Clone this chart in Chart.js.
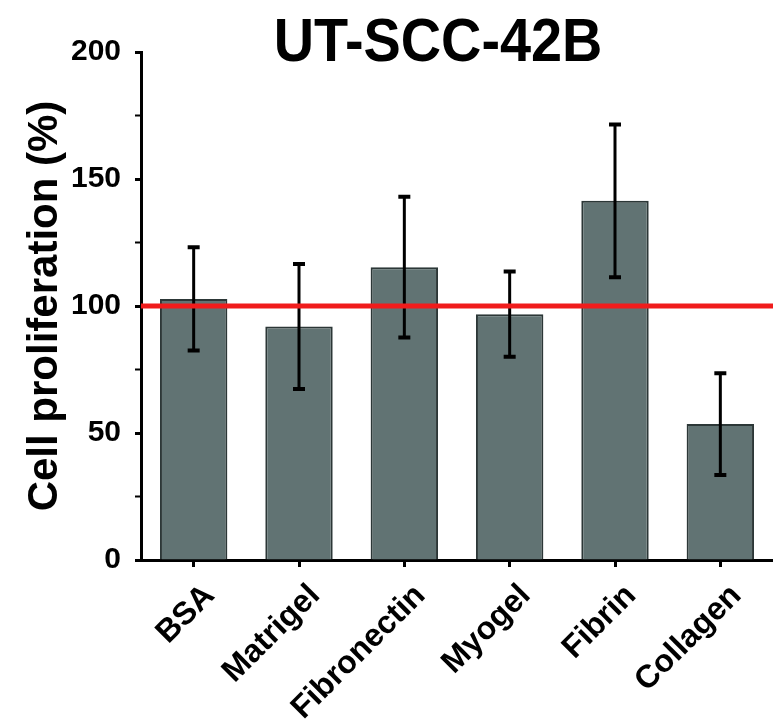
<!DOCTYPE html>
<html>
<head>
<meta charset="utf-8">
<title>UT-SCC-42B</title>
<script src="https://cdn.jsdelivr.net/npm/chart.js@4.4.1/dist/chart.umd.min.js"></script>
<style>
  html, body { margin: 0; padding: 0; background: #fff; }
  #wrap { width: 773px; height: 720px; }
</style>
</head>
<body>
<div id="wrap"><canvas id="prolifChart" width="773" height="720"></canvas></div>
<script>
const categories = ['BSA', 'Matrigel', 'Fibronectin', 'Myogel', 'Fibrin', 'Collagen'];
const proliferation = [102.8, 91.9, 115.3, 96.8, 141.4, 53.5];
const errors = [20.3, 24.6, 27.7, 16.8, 30.1, 20.0];
const yMin = 0;
const yMax = 200;
const yStep = 25;        // minor tick every 25, label every 50
const yLabelStep = 50;
const referenceLevel = 100;
const chartTitle = 'UT-SCC-42B';
const yTitle = 'Cell proliferation (%)';

const FONT = '"Liberation Sans", Arial, sans-serif';

// error bars + red 100% line, drawn after the bars
const overlayPlugin = {
  id: 'overlay',
  afterDatasetsDraw(chart) {
    const { ctx, chartArea, scales: { y } } = chart;
    const meta = chart.getDatasetMeta(0);
    ctx.save();
    ctx.strokeStyle = '#000';
    meta.data.forEach((bar, i) => {
      const cx = bar.x;
      const top = y.getPixelForValue(proliferation[i] + errors[i]);
      const bot = y.getPixelForValue(proliferation[i] - errors[i]);
      ctx.lineWidth = 3;
      ctx.beginPath();
      ctx.moveTo(cx, top);
      ctx.lineTo(cx, bot);
      ctx.stroke();
      ctx.lineWidth = 4;
      ctx.beginPath();
      ctx.moveTo(cx - 6, top);
      ctx.lineTo(cx + 6, top);
      ctx.moveTo(cx - 6, bot);
      ctx.lineTo(cx + 6, bot);
      ctx.stroke();
    });

    const ry = y.getPixelForValue(referenceLevel);
    ctx.strokeStyle = '#f01c1c';
    ctx.lineWidth = 5;
    ctx.beginPath();
    ctx.moveTo(chartArea.left, ry);
    ctx.lineTo(chartArea.right, ry);
    ctx.stroke();
    ctx.restore();
  }
};

// title sits a bit left of the plot centre, so draw it by hand
const titlePlugin = {
  id: 'bigTitle',
  afterDraw(chart) {
    const ctx = chart.ctx;
    ctx.save();
    ctx.fillStyle = '#000';
    ctx.font = 'bold 62px ' + FONT;
    ctx.textAlign = 'center';
    ctx.textBaseline = 'alphabetic';
    ctx.translate(438, 61);
    ctx.scale(0.9, 1);
    ctx.fillText(chartTitle, 0, 0);
    ctx.restore();
  }
};

new Chart(document.getElementById('prolifChart'), {
  type: 'bar',
  data: {
    labels: categories,
    datasets: [{
      label: yTitle,
      data: proliferation,
      backgroundColor: '#617373',
      borderColor: '#2c3737',
      borderWidth: 2,
      categoryPercentage: 1,
      barPercentage: 0.64
    }]
  },
  options: {
    responsive: false,
    animation: false,
    devicePixelRatio: 1,
    layout: { padding: { top: 52, left: 20, right: 0, bottom: 0 } },
    plugins: {
      legend: { display: false },
      tooltip: { enabled: false },
      title: { display: false }
    },
    scales: {
      x: {
        offset: true,
        grid: {
          offset: false,
          drawOnChartArea: false,
          drawTicks: true,
          tickLength: 7,
          tickWidth: 3,
          tickColor: '#000'
        },
        border: { display: true, color: '#000', width: 3 },
        ticks: {
          color: '#000',
          font: { family: FONT, size: 32, weight: 'bold' },
          minRotation: 45,
          maxRotation: 45,
          autoSkip: false,
          padding: 10,
          labelOffset: 16
        },
        afterFit(scale) { scale.height = 160; }
      },
      y: {
        min: yMin,
        max: yMax,
        grid: {
          drawOnChartArea: false,
          drawTicks: true,
          tickLength: 6,
          tickWidth: ctx => (ctx.tick && ctx.tick.value % yLabelStep === 0 ? 3 : 2),
          tickColor: '#000'
        },
        border: { display: true, color: '#000', width: 3 },
        ticks: {
          stepSize: yStep,
          autoSkip: false,
          color: '#000',
          padding: 14,
          font: { family: FONT, size: 30, weight: 'bold' },
          callback: v => (v % yLabelStep === 0 ? v : '')
        },
        title: {
          display: true,
          text: yTitle,
          color: '#000',
          font: { family: FONT, size: 42, weight: 'bold' },
          padding: { top: 0, bottom: 0 }
        },
        afterFit(scale) { scale.width = 121; }
      }
    }
  },
  plugins: [overlayPlugin, titlePlugin]
});
</script>
</body>
</html>
